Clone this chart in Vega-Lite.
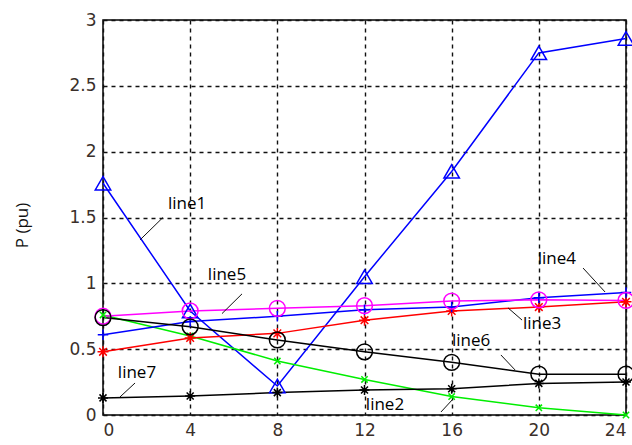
{
  "$schema": "https://vega.github.io/schema/vega-lite/v6.json",
  "autosize": "none",
  "width": 523,
  "height": 395,
  "padding": {"left": 103, "top": 20, "right": 6, "bottom": 30},
  "background": "white",
  "config": {
    "view": {"stroke": "black", "strokeWidth": 1.5},
    "axis": {
      "grid": true, "gridColor": "#111", "gridDash": [4, 4], "gridWidth": 1.4, "gridOpacity": 1,
      "domain": false, "ticks": false,
      "labelFont": "DejaVu Sans", "labelFontSize": 17, "labelColor": "#3a2f2a",
      "labelPadding": 7
    }
  },
  "datasets": {
    "series": [
      {"s": "line1", "h": 0, "p": 1.76}, {"s": "line1", "h": 4, "p": 0.79}, {"s": "line1", "h": 8, "p": 0.22},
      {"s": "line1", "h": 12, "p": 1.05}, {"s": "line1", "h": 16, "p": 1.85}, {"s": "line1", "h": 20, "p": 2.75}, {"s": "line1", "h": 24, "p": 2.86},
      {"s": "line2", "h": 0, "p": 0.76}, {"s": "line2", "h": 4, "p": 0.6}, {"s": "line2", "h": 8, "p": 0.41},
      {"s": "line2", "h": 12, "p": 0.27}, {"s": "line2", "h": 16, "p": 0.14}, {"s": "line2", "h": 20, "p": 0.055}, {"s": "line2", "h": 24, "p": 0.0},
      {"s": "line3", "h": 0, "p": 0.48}, {"s": "line3", "h": 4, "p": 0.585}, {"s": "line3", "h": 8, "p": 0.62},
      {"s": "line3", "h": 12, "p": 0.72}, {"s": "line3", "h": 16, "p": 0.79}, {"s": "line3", "h": 20, "p": 0.82}, {"s": "line3", "h": 24, "p": 0.86},
      {"s": "line4", "h": 0, "p": 0.61}, {"s": "line4", "h": 4, "p": 0.71}, {"s": "line4", "h": 8, "p": 0.75},
      {"s": "line4", "h": 12, "p": 0.8}, {"s": "line4", "h": 16, "p": 0.82}, {"s": "line4", "h": 20, "p": 0.89}, {"s": "line4", "h": 24, "p": 0.93},
      {"s": "line5", "h": 0, "p": 0.75}, {"s": "line5", "h": 4, "p": 0.79}, {"s": "line5", "h": 8, "p": 0.81},
      {"s": "line5", "h": 12, "p": 0.83}, {"s": "line5", "h": 16, "p": 0.865}, {"s": "line5", "h": 20, "p": 0.875}, {"s": "line5", "h": 24, "p": 0.87},
      {"s": "line6", "h": 0, "p": 0.74}, {"s": "line6", "h": 4, "p": 0.67}, {"s": "line6", "h": 8, "p": 0.57},
      {"s": "line6", "h": 12, "p": 0.48}, {"s": "line6", "h": 16, "p": 0.4}, {"s": "line6", "h": 20, "p": 0.31}, {"s": "line6", "h": 24, "p": 0.31},
      {"s": "line7", "h": 0, "p": 0.13}, {"s": "line7", "h": 4, "p": 0.145}, {"s": "line7", "h": 8, "p": 0.17},
      {"s": "line7", "h": 12, "p": 0.19}, {"s": "line7", "h": 16, "p": 0.2}, {"s": "line7", "h": 20, "p": 0.24}, {"s": "line7", "h": 24, "p": 0.25}
    ],
    "labels": [
      {"t": "line1", "x": 3.86, "y": 1.6, "x1": 2.75, "y1": 1.5, "x2": 1.7, "y2": 1.33},
      {"t": "line5", "x": 5.69, "y": 1.06, "x1": 6.38, "y1": 0.92, "x2": 5.46, "y2": 0.77},
      {"t": "line7", "x": 1.56, "y": 0.32, "x1": 1.47, "y1": 0.243, "x2": 0.78, "y2": 0.137},
      {"t": "line4", "x": 20.83, "y": 1.185, "x1": 22.03, "y1": 1.116, "x2": 23.04, "y2": 0.934},
      {"t": "line3", "x": 20.15, "y": 0.69, "x1": 18.59, "y1": 0.813, "x2": 19.23, "y2": 0.721},
      {"t": "line6", "x": 16.89, "y": 0.56, "x1": 18.26, "y1": 0.456, "x2": 18.91, "y2": 0.342},
      {"t": "line2", "x": 12.94, "y": 0.076, "x1": 15.51, "y1": 0.023, "x2": 16.02, "y2": 0.114}
    ]
  },
  "layer": [
    {
      "data": {"name": "series"},
      "mark": {"type": "line", "strokeWidth": 1.5},
      "encoding": {
        "x": {"field": "h", "type": "quantitative", "scale": {"domain": [0, 24], "nice": false},
              "axis": {"values": [0, 4, 8, 12, 16, 20, 24], "title": null}},
        "y": {"field": "p", "type": "quantitative", "scale": {"domain": [0, 3], "nice": false},
              "axis": {"values": [0, 0.5, 1, 1.5, 2, 2.5, 3], "format": "~g", "title": "P (pu)",
                       "titleFont": "Open Sans", "titleFontSize": 17, "titleFontWeight": "normal", "titleColor": "#111",
                       "titleX": -81, "titleY": 205, "titleAngle": -90, "titleAlign": "center", "titleBaseline": "middle"}},
        "color": {"field": "s", "type": "nominal", "legend": null,
                  "scale": {"domain": ["line1", "line2", "line3", "line4", "line5", "line6", "line7"],
                            "range": ["#0000ff", "#00ee00", "#ff0000", "#0000ff", "#ff00ff", "#000000", "#000000"]}},
        "detail": {"field": "s"}
      }
    },
    {
      "data": {"name": "series"},
      "mark": {"type": "point", "filled": false, "strokeWidth": 1.5, "opacity": 1},
      "encoding": {
        "x": {"field": "h", "type": "quantitative"},
        "y": {"field": "p", "type": "quantitative"},
        "stroke": {"field": "s", "type": "nominal", "legend": null,
                  "scale": {"domain": ["line1", "line2", "line3", "line4", "line5", "line6", "line7"],
                            "range": ["#0000ff", "#00ee00", "#ff0000", "#0000ff", "#ff00ff", "#000000", "#000000"]}},
        "shape": {"field": "s", "type": "nominal", "legend": null,
                  "scale": {"domain": ["line1", "line2", "line3", "line4", "line5", "line6", "line7"],
                            "range": ["triangle-up", "M-1,-1L1,1M-1,1L1,-1", "M-1,0L1,0M0,-1L0,1M-0.7,-0.7L0.7,0.7M-0.7,0.7L0.7,-0.7", "M-1,0L1,0M0,-1L0,1", "circle", "circle", "M-1,0L1,0M0,-1L0,1M-0.7,-0.7L0.7,0.7M-0.7,0.7L0.7,-0.7"]}},
        "size": {"field": "s", "type": "nominal", "legend": null,
                 "scale": {"type": "ordinal", "domain": ["line1", "line2", "line3", "line4", "line5", "line6", "line7"],
                           "range": [240, 40, 120, 110, 250, 250, 100]}}
      }
    },
    {
      "data": {"name": "labels"},
      "mark": {"type": "rule", "color": "#111", "strokeWidth": 1},
      "encoding": {
        "x": {"field": "x1", "type": "quantitative"},
        "y": {"field": "y1", "type": "quantitative"},
        "x2": {"field": "x2"},
        "y2": {"field": "y2"}
      }
    },
    {
      "data": {"name": "labels"},
      "mark": {"type": "text", "font": "Open Sans", "fontSize": 17, "color": "#000", "align": "center", "baseline": "middle"},
      "encoding": {
        "x": {"field": "x", "type": "quantitative"},
        "y": {"field": "y", "type": "quantitative"},
        "text": {"field": "t"}
      }
    }
  ]
}
